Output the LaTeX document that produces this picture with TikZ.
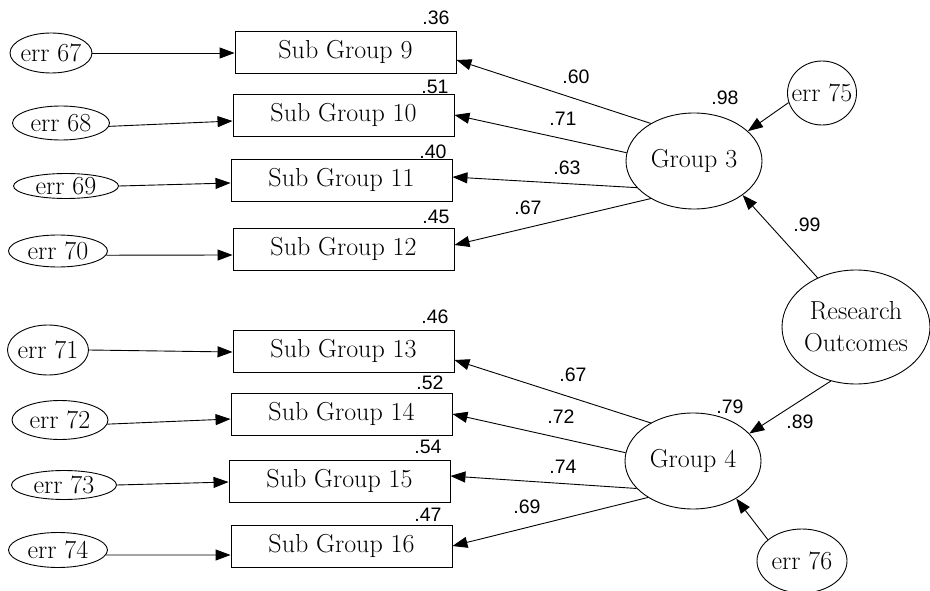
\documentclass[tikz,border=0pt]{standalone}
\usepackage{fontspec}
\newfontfamily\numfont{Liberation Sans}
\usetikzlibrary{shapes.geometric,arrows.meta}
\begin{document}
\begin{tikzpicture}[x=1pt,y=-1pt,
 box/.style={draw, rectangle, minimum width=221pt, minimum height=42pt, inner sep=0pt, line width=0.9pt, font=\fontsize{26}{30}\selectfont},
 ell/.style={draw, ellipse, inner sep=0pt, line width=0.9pt, font=\fontsize{26}{32}\selectfont, align=center},
 arr/.style={-{Triangle[length=15pt,width=11pt]}, line width=0.9pt},
 num/.style={font=\numfont\fontsize{19.5}{22}\selectfont, inner sep=0pt}]
\useasboundingbox (0,0) rectangle (930,591);

% observed boxes
\node[box] (sg9)  at (345.5,52)  {Sub Group 9};
\node[box] (sg10) at (343.5,115) {Sub Group 10};
\node[box] (sg11) at (341.5,180) {Sub Group 11};
\node[box] (sg12) at (343.5,249) {Sub Group 12};
\node[box] (sg13) at (343.5,351) {Sub Group 13};
\node[box] (sg14) at (341.5,414) {Sub Group 14};
\node[box] (sg15) at (339.5,481) {Sub Group 15};
\node[box] (sg16) at (341.5,546) {Sub Group 16};

% error terms (left)
\node[ell, minimum width=82pt,  minimum height=40pt] (e67) at (51,53)  {\makebox[0pt]{err 67}};
\node[ell, minimum width=97pt,  minimum height=34pt] (e68) at (61,123) {\makebox[0pt]{err 68}};
\node[ell, minimum width=105pt, minimum height=25pt] (e69) at (66,186) {\makebox[0pt]{err 69}};
\node[ell, minimum width=99pt,  minimum height=32pt] (e70) at (58,251) {\makebox[0pt]{err 70}};
\node[ell, minimum width=81pt,  minimum height=50pt] (e71) at (48,350) {\makebox[0pt]{err 71}};
\node[ell, minimum width=96pt,  minimum height=39pt] (e72) at (60,420) {\makebox[0pt]{err 72}};
\node[ell, minimum width=105pt, minimum height=29pt] (e73) at (64,485) {\makebox[0pt]{err 73}};
\node[ell, minimum width=99pt,  minimum height=35pt] (e74) at (58,550) {\makebox[0pt]{err 74}};

% latent variables
\node[ell, minimum width=136pt, minimum height=96pt] (g3) at (694,161) {Group 3};
\node[ell, minimum width=136pt, minimum height=96pt] (g4) at (693,461) {Group 4};
\node[ell, minimum width=148pt, minimum height=114pt] (ro) at (856,327) {\makebox[0pt]{Research}\\\makebox[0pt]{Outcomes}};
\node[ell, minimum width=69pt, minimum height=64pt] (e75) at (822,93) {\makebox[0pt]{err 75}};
\node[ell, minimum width=90pt, minimum height=64pt] (e76) at (802,561) {\makebox[0pt]{err 76}};

% error -> boxes
\draw[arr] (e67.east) -- ([yshift=-1pt]sg9.west);
\draw[arr] (e68.-4) -- ([yshift=-6pt]sg10.west);
\draw[arr] (e69.east) -- ([yshift=-3pt]sg11.west);
\draw[arr] (e70.-5) -- ([yshift=-6pt]sg12.west);
\draw[arr] (e71.east) -- ([yshift=-1pt]sg13.west);
\draw[arr] (e72.-5) -- ([yshift=-5pt]sg14.west);
\draw[arr] (e73.east) -- ([yshift=-1pt]sg15.west);
\draw[arr] (e74.-6) -- ([yshift=-9pt]sg16.west);

% group -> boxes
\draw[arr] (g3.139) -- ([yshift=-8pt]sg9.east);
\draw[arr] (g3.173) -- (sg10.east);
\draw[arr] (g3.205) -- ([yshift=3pt]sg11.east);
\draw[arr] (g3.221) -- ([yshift=4pt]sg12.east);
\draw[arr] (g4.138.5) -- ([yshift=-9pt]sg13.east);
\draw[arr] (g4.173) -- (sg14.east);
\draw[arr] (g4.206) -- ([yshift=5pt]sg15.east);
\draw[arr] (g4.219) -- (sg16.east);

% structural
\draw[arr] (ro.128) -- (g3.325);
\draw[arr] (ro.245) -- (g4.26);
\draw[arr] (e75.196) -- (g3.29.5);
\draw[arr] (e76.148) -- (g4.319);

% squared multiple correlations
\node[num] (r36) at (436,18)  {.36};
\node[num] (r51) at (435,87)  {.51};
\node[num] (r40) at (433,152) {.40};
\node[num] (r45) at (436,217) {.45};
\node[num] (r46) at (435,317) {.46};
\node[num] (r52) at (430,383) {.52};
\node[num] (r54) at (428,447) {.54};
\node[num] (r47) at (428,515) {.47};
\node[num] (r98) at (725,98)  {.98};
\node[num] (r79) at (730,407) {.79};

% loadings
\node[num] (l60) at (576,77)  {.60};
\node[num] (l71) at (563,119) {.71};
\node[num] (l63) at (567,168) {.63};
\node[num] (l67a) at (528,208) {.67};
\node[num] (l99) at (807,225) {.99};
\node[num] (l67b) at (573,375) {.67};
\node[num] (l72) at (561,417) {.72};
\node[num] (l89) at (800,422) {.89};
\node[num] (l74) at (563,467) {.74};
\node[num] (l69) at (527,507) {.69};
\end{tikzpicture}
\end{document}
